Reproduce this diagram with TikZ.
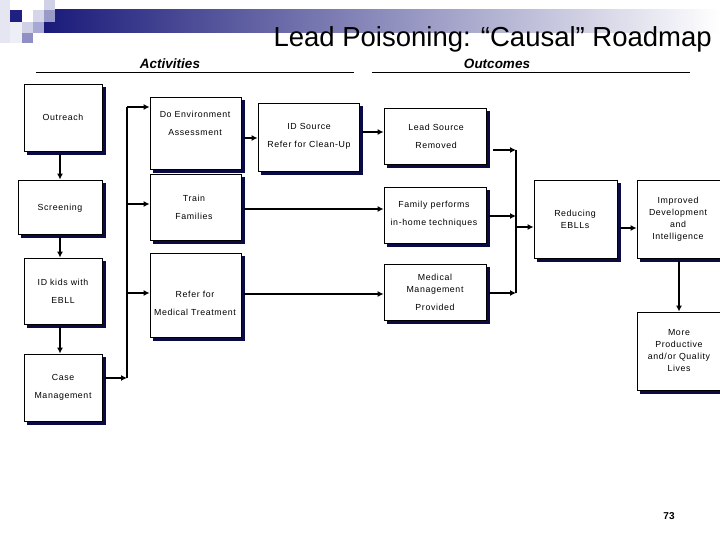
\documentclass[tikz,border=0pt]{standalone}
\usepackage{fontspec}
\setmainfont{Liberation Sans}
\newfontfamily\boxfont[LetterSpace=7]{Liberation Sans}
\usetikzlibrary{arrows.meta,shadows}
\definecolor{navy}{HTML}{1A1A7A}
\definecolor{shadowc}{HTML}{0A0A45}
\begin{document}
\begin{tikzpicture}[x=1pt,y=-1pt,
  rect/.style n args={4}{at={({(#1+#3)/2},{(#2+#4)/2})},
     minimum width={(#3-#1)*1pt}, minimum height={(#4-#2)*1pt}},
  box/.style={draw=black, line width=0.8pt, fill=white, inner sep=0pt,
     copy shadow={shadow xshift=3pt, shadow yshift=-3pt, fill=shadowc, draw=shadowc}},
  txt/.style={font=\boxfont\fontsize{8.8}{18}\selectfont, align=center, inner sep=0pt},
  txtb/.style={font=\boxfont\fontsize{8.8}{12}\selectfont, align=center, inner sep=0pt},
  conn/.style={line width=1.5pt},
  arr/.style={conn, -{Latex[length=6pt,width=6pt]}},
  head/.style={font=\fontsize{13.5}{16}\selectfont\bfseries\itshape, inner sep=0pt, anchor=base}
]
\useasboundingbox (0,0) rectangle (720,540);
% header decoration
\shade[left color=navy, right color=white] (44,10) rectangle (720,33);
\fill[color={rgb,255:red,230;green,230;blue,242}] (0,0) rectangle (10,43);
\fill[color={rgb,255:red,238;green,238;blue,246}] (10,22) rectangle (22,43);
\fill[color={rgb,255:red,32;green,32;blue,130}] (10,10) rectangle (22,22);
\fill[color={rgb,255:red,208;green,208;blue,230}] (22,22) rectangle (33,33);
\fill[color={rgb,255:red,143;green,143;blue,196}] (22,33) rectangle (33,43);
\fill[color={rgb,255:red,214;green,214;blue,234}] (33,10) rectangle (44,22);
\fill[color={rgb,255:red,168;green,168;blue,212}] (33,22) rectangle (44,33);
\fill[color={rgb,255:red,208;green,208;blue,230}] (44,0) rectangle (55,10);
\fill[color={rgb,255:red,154;green,154;blue,200}] (44,10) rectangle (55,22);

\node[font=\fontsize{27.5}{30}\selectfont, inner sep=0pt, anchor=base east] (title) at (712,47) {Lead Poisoning: “Causal” Roadmap};

\node[head] (acth) at (170,69) {Activities};
\node[head] (outh) at (497,69) {Outcomes};
\draw[line width=0.8pt] (36,72) -- (354,72);
\draw[line width=0.8pt] (372,72) -- (690,72);

% boxes
\node[box, rect={24}{84}{102}{151}] (outreach) {};
\node[box, rect={18}{180}{102}{234}] (screening) {};
\node[box, rect={24}{258}{102}{324}] (idkids) {};
\node[box, rect={24}{354}{102}{421}] (casem) {};
\node[box, rect={150}{97}{241}{169}] (doenv) {};
\node[box, rect={150}{174}{241}{240}] (train) {};
\node[box, rect={150}{253}{241}{337}] (refer) {};
\node[box, rect={258}{103}{359}{171}] (idsrc) {};
\node[box, rect={384}{108}{486}{164}] (leadsrc) {};
\node[box, rect={384}{187}{486}{243}] (family) {};
\node[box, rect={384}{264}{486}{320}] (medical) {};
\node[box, rect={534}{180}{617}{258}] (reducing) {};
\node[box, rect={637}{180}{721}{258}] (improved) {};
\node[box, rect={637}{312}{721}{390}] (more) {};

% texts
\node[txt] (outreach-t) at (63,117) {Outreach};
\node[txt] (screening-t) at (60,208) {Screening};
\node[txt] (idkids-t) at (63,291) {ID kids with\\EBLL};
\node[txt] (casem-t) at (63,387) {Case\\Management};
\node[txt] (doenv-t) at (195,123) {Do Environment\\Assessment};
\node[txt] (train-t) at (194,207) {Train\\Families};
\node[txt] (refer-t) at (195,303) {Refer for\\Medical Treatment};
\node[txt] (idsrc-t) at (309,136) {ID Source\\Refer for Clean-Up};
\node[txt] (leadsrc-t) at (436,136) {Lead Source\\Removed};
\node[txt] (family-t) at (434,214) {Family performs\\in-home techniques};
\node[txtb] (medical-t) at (435,292) {Medical\\Management\\[6pt]Provided};
\node[txtb] (reducing-t) at (575,219) {Reducing\\EBLLs};
\node[txtb] (improved-t) at (678,219) {Improved\\Development\\and\\Intelligence};
\node[txtb] (more-t) at (679,351) {More\\Productive\\and/or Quality\\Lives};

\node[font=\fontsize{10}{12}\selectfont\bfseries, inner sep=0pt] (pagenum) at (669,516) {73};

% left chain
\draw[arr, shorten <=3pt] (screening.north |- outreach.south) -- (screening.north);
\draw[arr, shorten <=3pt] (screening.south) -- (screening.south |- idkids.north);
\draw[arr, shorten <=3pt] (screening.south |- idkids.south) -- (screening.south |- casem.north);

% left bus
\coordinate (b1) at (127,107);
\coordinate (b2) at (127,204);
\coordinate (b3) at (127,293);
\coordinate (b4) at (127,378);
\draw[conn] (b1) -- (b4);
\draw[arr, shorten <=3pt] (casem.east |- b4) -- (b4);
\draw[arr] (b1) -- (b1 -| doenv.west);
\draw[arr] (b2) -- (b2 -| train.west);
\draw[arr] (b3) -- (b3 -| refer.west);

% middle
\coordinate (m1) at (241,138);
\draw[arr, shorten <=3pt] (m1) -- (m1 -| idsrc.west);
\coordinate (m2) at (359,132);
\draw[arr, shorten <=3pt] (m2) -- (m2 -| leadsrc.west);
\coordinate (m3) at (241,209);
\draw[arr, shorten <=3pt] (m3) -- (m3 -| family.west);
\coordinate (m4) at (241,294);
\draw[arr, shorten <=3pt] (m4) -- (m4 -| medical.west);

% right bus
\coordinate (r1) at (516,150);
\coordinate (r2) at (516,216);
\coordinate (r3) at (516,293);
\coordinate (r4) at (516,227);
\draw[conn] (r1) -- (r3);
\draw[arr, shorten <=7pt] (leadsrc.east |- r1) -- (r1);
\draw[arr, shorten <=3pt] (family.east |- r2) -- (r2);
\draw[arr, shorten <=3pt] (medical.east |- r3) -- (r3);
\draw[arr] (r4) -- (r4 -| reducing.west);
\coordinate (r5) at (617,228);
\draw[arr, shorten <=3pt] (r5) -- (r5 -| improved.west);
\draw[arr, shorten <=3pt] (improved.south) -- (more.north);
\end{tikzpicture}
\end{document}
